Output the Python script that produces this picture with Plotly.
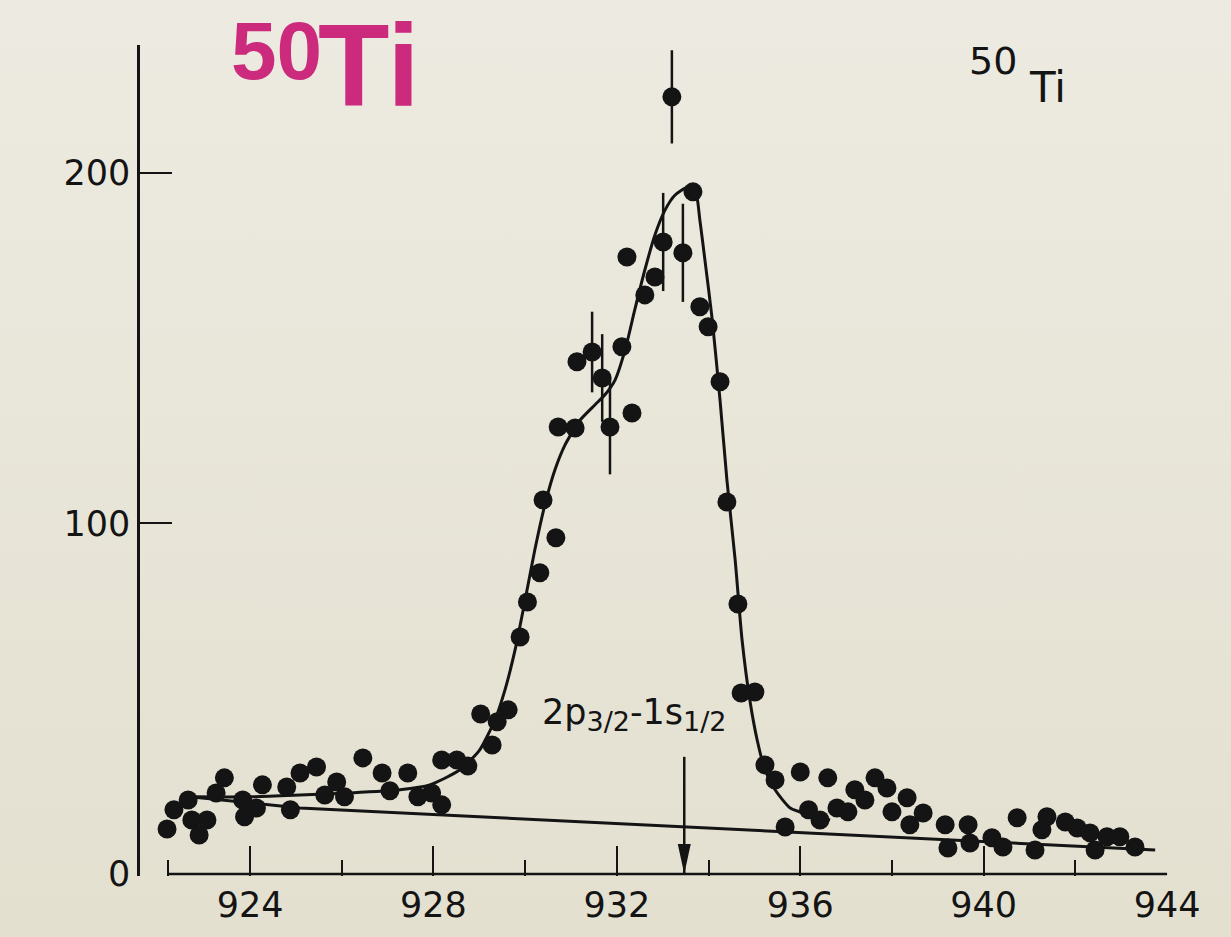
import base64
import plotly.graph_objects as go

# ---------------- data ----------------
energy = [922.19, 922.34, 922.65, 922.73, 922.89, 923.06, 923.26, 923.44, 923.84, 923.88,
          924.14, 924.27, 924.80, 924.88, 925.09, 925.45, 925.63, 925.89, 926.06, 926.46,
          926.88, 927.05, 927.44, 927.66, 927.96, 928.18, 928.18, 928.51, 928.75, 929.03,
          929.28, 929.39, 929.63, 929.89, 930.05, 930.32, 930.39, 930.67, 930.72, 931.09,
          931.13, 931.46, 931.68, 931.85, 932.11, 932.22, 932.33, 932.61, 932.83, 933.01,
          933.20, 933.44, 933.66, 933.81, 933.99, 934.25, 934.40, 934.64, 934.71, 935.01,
          935.23, 935.45, 935.67, 936.00, 936.18, 936.43, 936.60, 936.80, 937.04, 937.19,
          937.41, 937.63, 937.89, 938.00, 938.33, 938.39, 938.68, 939.16, 939.22, 939.66,
          939.70, 940.18, 940.42, 940.73, 941.12, 941.27, 941.38, 941.78, 942.04, 942.32,
          942.43, 942.69, 942.97, 943.30]
counts = [12.8, 18.3, 21.1, 15.4, 11.1, 15.4, 23.1, 27.4, 21.1, 16.3,
          18.8, 25.4, 24.8, 18.3, 28.8, 30.5, 22.5, 26.2, 22.0, 33.1,
          28.8, 23.7, 28.8, 22.0, 23.1, 19.7, 32.5, 32.5, 30.8, 45.6,
          36.8, 43.4, 46.8, 67.6, 77.6, 85.9, 106.7, 95.9, 127.5, 127.2,
          146.1, 148.9, 141.5, 127.5, 150.4, 176.0, 131.5, 165.2, 170.3, 180.3,
          221.7, 177.2, 194.6, 161.8, 156.1, 140.4, 106.1, 77.0, 51.6, 51.9,
          31.1, 26.8, 13.4, 29.1, 18.3, 15.4, 27.4, 18.8, 17.7, 24.0,
          21.1, 27.4, 24.5, 17.7, 21.7, 14.0, 17.4, 14.0, 7.4, 14.0,
          8.8, 10.3, 7.7, 16.0, 6.8, 12.6, 16.3, 14.8, 13.1, 11.7,
          6.8, 10.6, 10.6, 7.7]
count_errors = [0] * len(counts)
for e, err in [(931.46, 11.5), (931.68, 12.5), (931.85, 13.5), (933.01, 14.0),
               (933.20, 13.3), (933.44, 14.0)]:
    count_errors[energy.index(e)] = err

fit_energy = [922.69, 924.00, 925.09, 926.18, 927.27, 927.92, 928.58, 929.01, 929.34, 929.56,
              929.78, 930.00, 930.21, 930.43, 930.65, 930.87, 931.20, 931.52, 931.74, 931.96,
              932.18, 932.39, 932.61, 932.83, 933.05, 933.27, 933.55, 933.71, 933.81, 933.92,
              934.08, 934.25, 934.40, 934.58, 934.73, 934.90, 935.06, 935.23, 935.45, 935.78,
              936.21, 936.65]
fit_counts = [22.0, 22.0, 22.5, 23.1, 24.0, 25.4, 29.7, 35.4, 43.9, 52.5,
              63.9, 78.2, 92.4, 105.3, 115.3, 122.4, 129.5, 133.8, 136.7, 140.9,
              149.5, 160.9, 172.3, 182.3, 189.4, 193.7, 196.0, 195.1, 186.6, 175.2,
              158.1, 135.2, 112.4, 89.6, 66.8, 49.6, 38.2, 29.7, 24.0, 18.8,
              16.8, 15.4]

bg_energy = [922.69, 925.09, 943.74]
bg_counts = [22.0, 18.8, 6.8]

x_ticks = [924, 928, 932, 936, 940, 944]
x_minor_ticks = [922.2, 926, 930, 934, 938, 942]
y_ticks = [0, 100, 200]

transition_energy = 933.47   # 2p3/2 - 1s1/2 marker
arrow_top = 33.4

# ---------------- styling ----------------
INK = "#141414"
BG = "#E9E7DA"
FONT = "DejaVu Sans"

# pixel helpers for the paper-positioned labels (plot area 140..1168 x 45..876)
def px(xp):
    return (xp - 140) / 1028

def py(yp):
    return (876 - yp) / 831

# soft vertical paper gradient (like the scanned page)
svg = ("<svg xmlns='http://www.w3.org/2000/svg' width='10' height='100' "
       "preserveAspectRatio='none'><defs><linearGradient id='g' x1='0' y1='0' x2='0' y2='1'>"
       "<stop offset='0' stop-color='#EDEBE1'/><stop offset='1' stop-color='#E3E0D0'/>"
       "</linearGradient></defs><rect width='10' height='100' fill='url(#g)'/></svg>")
bg_uri = "data:image/svg+xml;base64," + base64.b64encode(svg.encode()).decode()

fig = go.Figure()

fig.add_trace(go.Scatter(x=bg_energy, y=bg_counts, mode="lines",
                         line=dict(color=INK, width=3), hoverinfo="skip"))
fig.add_trace(go.Scatter(x=fit_energy, y=fit_counts, mode="lines",
                         line=dict(color=INK, width=3, shape="spline", smoothing=0.6),
                         hoverinfo="skip"))
fig.add_trace(go.Scatter(x=energy, y=counts, mode="markers",
                         marker=dict(color=INK, size=19, line=dict(width=0)),
                         error_y=dict(type="data", array=count_errors, visible=True,
                                      color=INK, thickness=2.5, width=0)))

# transition arrow
fig.add_shape(type="line", xref="x", yref="y", x0=transition_energy, x1=transition_energy,
              y0=0, y1=arrow_top, line=dict(color=INK, width=2.5))
fig.add_shape(type="path", xref="x", yref="y", xsizemode="pixel", ysizemode="pixel",
              xanchor=transition_energy, yanchor=0,
              path="M -6.5,30 L 6.5,30 L 0,0 Z", fillcolor=INK, line=dict(width=0))
# x axis line (starts at the first tick)
fig.add_shape(type="line", xref="x", yref="y", x0=x_minor_ticks[0], x1=x_ticks[-1],
              y0=0, y1=0, line=dict(color=INK, width=2.5))

fig.add_annotation(x=930.32, y=38.5, xref="x", yref="y", xanchor="left", yanchor="bottom",
                   text="2p<sub><span style='font-size:27px'>3/2</span></sub>"
                        "-1s<sub><span style='font-size:27px'>1/2</span></sub>",
                   showarrow=False, font=dict(family=FONT, size=35, color=INK))

# black isotope label (top right)
fig.add_annotation(x=px(993), y=py(61), xref="paper", yref="paper",
                   xanchor="center", yanchor="middle",
                   text="50", showarrow=False, font=dict(family=FONT, size=38, color=INK))
fig.add_annotation(x=px(1047.5), y=py(87.5), xref="paper", yref="paper",
                   xanchor="center", yanchor="middle",
                   text="Ti", showarrow=False, font=dict(family=FONT, size=42, color=INK))

# magenta title
MAG = "#CC2A7C"
fig.add_annotation(x=px(276.5), y=py(50.5), xref="paper", yref="paper",
                   xanchor="center", yanchor="middle", text="<b>50</b>", showarrow=False,
                   font=dict(family="Liberation Sans", size=82, color=MAG))
fig.add_annotation(x=px(368.5), y=py(65.5), xref="paper", yref="paper",
                   xanchor="center", yanchor="middle", text="<b>Ti</b>", showarrow=False,
                   font=dict(family="Liberation Sans", size=117, color=MAG))

fig.add_layout_image(source=bg_uri, xref="paper", yref="paper",
                     x=px(0), y=py(0), sizex=1231 / 1028, sizey=937 / 831,
                     xanchor="left", yanchor="top", sizing="stretch", layer="below")

fig.update_layout(
    width=1231, height=937, autosize=False,
    margin=dict(l=140, r=63, t=45, b=61),
    paper_bgcolor=BG, plot_bgcolor="rgba(0,0,0,0)",
    showlegend=False,
    font=dict(family=FONT, color=INK),
    xaxis=dict(range=[921.60, 944.02], showgrid=False, zeroline=False, showline=False,
               tickmode="array", tickvals=x_ticks, ticks="inside", ticklen=30,
               tickwidth=2, tickcolor=INK, tickfont=dict(family=FONT, size=35, color=INK),
               ticklabelstandoff=5,
               minor=dict(tickmode="array", tickvals=x_minor_ticks, ticks="inside",
                          ticklen=16, tickwidth=2, tickcolor=INK)),
    yaxis=dict(range=[-0.6, 236.5], showgrid=False, zeroline=False, showline=True,
               linecolor=INK, linewidth=2.5, tickmode="array", tickvals=y_ticks,
               ticks="", tickfont=dict(family=FONT, size=35, color=INK),
               minor=dict(tickmode="array", tickvals=[100, 200], ticks="inside",
                          ticklen=32, tickwidth=2, tickcolor=INK)),
)

fig.write_html("out.html")
